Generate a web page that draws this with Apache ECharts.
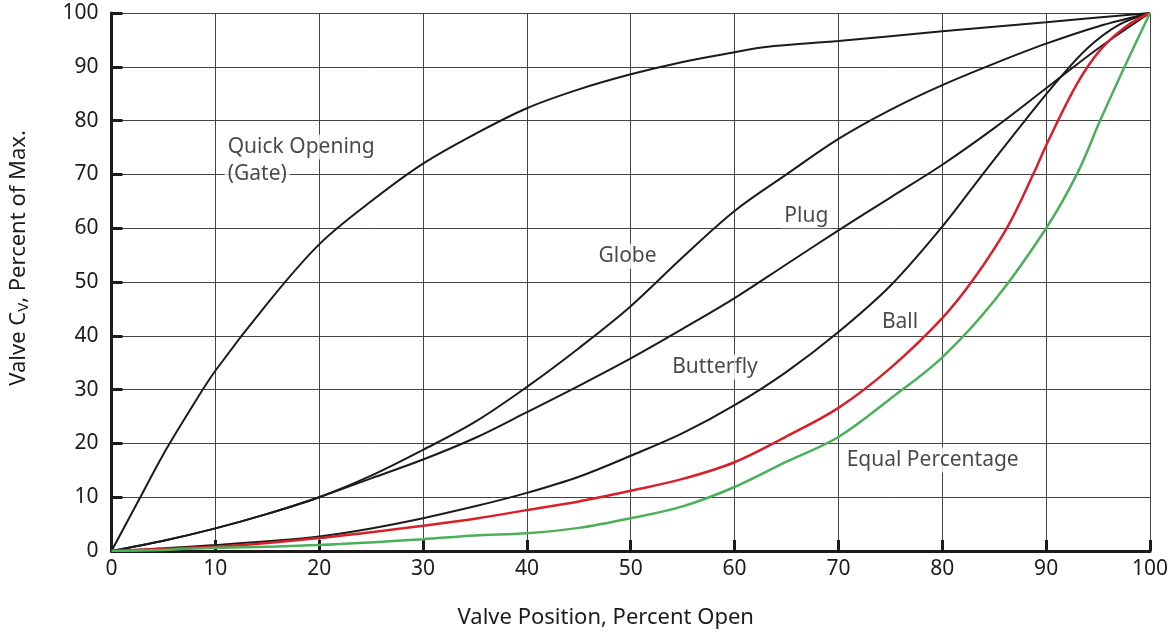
<!DOCTYPE html>
<html>
<head>
<meta charset="utf-8">
<script src="https://cdn.jsdelivr.net/npm/echarts@6/dist/echarts.min.js"></script>
<style>
  html, body { margin: 0; padding: 0; background: #fff; }
  #chart { width: 1171px; height: 634px; }
</style>
</head>
<body>
<div id="chart"></div>
<script>
// valve position (% open) vs Cv (% of max)
const quickOpening = [[0,0],[2.5,9],[5,18],[7.5,26],[10,33.5],[15,46],[20,57],[25,65],[30,72],[35,77.5],[40,82.3],[45,85.8],[50,88.6],[55,90.9],[60,92.7],[63,93.7],[70,94.8],[80,96.6],[90,98.3],[100,100]];
const globe = [[0,0],[5,1.9],[10,4.2],[15,6.9],[20,10],[25,14],[30,18.8],[35,24],[40,30.5],[45,37.7],[50,45.5],[55,54.6],[60,63.2],[65,70],[70,76.6],[75,82],[80,86.6],[85,90.6],[90,94.3],[95,97.5],[100,100]];
const plug = [[0,0],[5,1.9],[10,4.2],[15,6.9],[20,10],[25,13.5],[30,17],[35,21],[40,25.8],[45,30.7],[50,35.8],[55,41.3],[60,47],[65,53.3],[70,59.6],[75,65.7],[80,71.8],[85,78.6],[90,86],[95,93.4],[100,100]];
const butterfly = [[0,0],[5,0.5],[10,1.1],[15,1.8],[20,2.7],[25,4.2],[30,6.1],[35,8.3],[40,10.8],[45,13.8],[50,17.7],[55,21.9],[60,27.1],[65,33.3],[70,40.7],[75,49.3],[80,60.3],[84,70.3],[88,80.1],[91,87.2],[94,93.5],[97,97.8],[100,100]];
const ball = [[0,0],[5,0.4],[10,0.8],[15,1.5],[20,2.4],[25,3.5],[30,4.7],[35,6],[40,7.6],[45,9.2],[50,11.2],[55,13.4],[60,16.5],[65,21.3],[70,26.6],[75,34],[80,43.3],[83,50.5],[86.3,60.3],[88.8,70.2],[90.1,75.8],[93,86.9],[95.2,93.1],[97.7,97.5],[100,100]];
const equalPercentage = [[0,0],[5,0.2],[10,0.6],[15,0.8],[20,1.1],[25,1.6],[30,2.2],[35,2.9],[40,3.3],[45,4.3],[50,6.1],[55,8.3],[60,11.9],[65,16.6],[70,21.2],[75,28.3],[80,36],[85,46.5],[90,60],[93,70.2],[95.2,80],[97.7,90.6],[100,100]];

// curve names and where their captions sit (left edge of text, middle height)
const captions = [
  { text: 'Quick Opening', at: [10.9, 75.1] },
  { text: '(Gate)', at: [10.9, 70] },
  { text: 'Globe', at: [46.6, 54.8] },
  { text: 'Plug', at: [64.5, 62.3] },
  { text: 'Butterfly', at: [53.7, 34.2] },
  { text: 'Ball', at: [73.9, 42.6] },
  { text: 'Equal Percentage', at: [70.5, 16.9] }
];

const ink = '#1c1a1b';
const font = 'Noto Sans';

const chart = echarts.init(document.getElementById('chart'));

function curve(name, data, color, width) {
  return {
    name: name,
    type: 'line',
    data: data,
    smooth: 0.35,
    symbol: 'none',
    lineStyle: { color: color, width: width },
    z: 3
  };
}

const option = {
  animation: false,
  textStyle: { fontFamily: font },
  grid: { left: 111, right: 14, top: 13, bottom: 83 },
  xAxis: {
    type: 'value',
    min: 0,
    max: 100,
    interval: 10,
    name: 'Valve Position, Percent Open',
    nameLocation: 'middle',
    nameGap: 56,
    nameTextStyle: { fontSize: 22, color: ink, fontFamily: font, padding: [0, 50, 0, 0] },
    axisLine: { lineStyle: { color: ink, width: 3 } },
    axisTick: { inside: true, length: 11, lineStyle: { color: ink, width: 3 } },
    axisLabel: { fontSize: 21, color: ink, margin: 8, fontFamily: font },
    splitLine: { show: true, lineStyle: { color: '#444', width: 1 } }
  },
  yAxis: {
    type: 'value',
    min: 0,
    max: 100,
    interval: 10,
    name: 'Valve C{sub|V}, Percent of Max.',
    nameLocation: 'middle',
    nameGap: 80,
    nameTextStyle: {
      fontSize: 22,
      color: ink,
      fontFamily: font,
      padding: [0, 0, 0, 48],
      rich: { sub: { fontSize: 15, color: ink, fontFamily: font, padding: [10, 0, 0, 0] } }
    },
    axisLine: { show: true, lineStyle: { color: ink, width: 3 } },
    axisTick: { show: true, inside: true, length: 11, lineStyle: { color: ink, width: 3 } },
    axisLabel: { fontSize: 21, color: ink, margin: 13, fontFamily: font },
    splitLine: { show: true, lineStyle: { color: '#444', width: 1 } }
  },
  series: [
    curve('Quick Opening', quickOpening, ink, 2),
    curve('Globe', globe, ink, 2),
    curve('Plug', plug, ink, 2),
    curve('Butterfly', butterfly, ink, 2),
    curve('Ball', ball, '#d7202a', 2.5),
    curve('Equal Percentage', equalPercentage, '#4cb05a', 2.5),
    {
      type: 'scatter',
      symbolSize: 0,
      silent: true,
      z: 4,
      data: captions.map(c => ({ value: c.at, name: c.text })),
      label: {
        show: true,
        position: 'right',
        distance: 0,
        formatter: p => p.name,
        fontSize: 21,
        fontFamily: font,
        color: ink,
        backgroundColor: '#fff',
        padding: [2, 3, 2, 3]
      }
    }
  ]
};

chart.setOption(option);
</script>
</body>
</html>
